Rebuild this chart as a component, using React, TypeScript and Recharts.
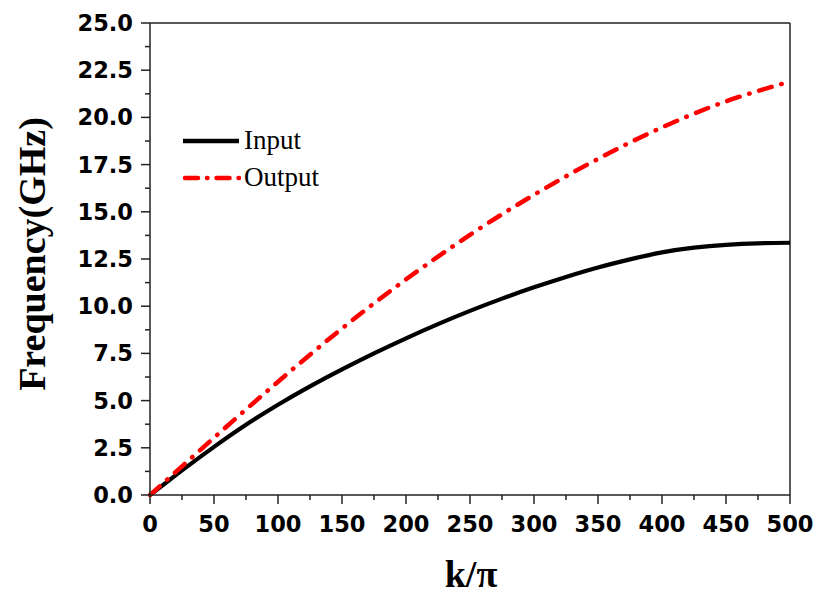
import React from "react"
import { LineChart, Line, XAxis, YAxis, ReferenceLine, Legend } from "recharts"

const kValues = [0, 25, 50, 75, 100, 125, 150, 175, 200, 225, 250, 275, 300, 325, 350, 375, 400, 425, 450, 475, 500]
const inputFreq = [0, 1.3, 2.55, 3.72, 4.78, 5.75, 6.65, 7.5, 8.3, 9.05, 9.75, 10.4, 11.0, 11.55, 12.05, 12.48, 12.85, 13.1, 13.25, 13.33, 13.36]
const outputFreq = [0, 1.52, 3.03, 4.53, 6.0, 7.43, 8.82, 10.15, 11.42, 12.63, 13.78, 14.87, 15.9, 16.88, 17.8, 18.67, 19.47, 20.2, 20.85, 21.4, 21.9]

const xTicks = [0, 25, 50, 75, 100, 125, 150, 175, 200, 225, 250, 275, 300, 325, 350, 375, 400, 425, 450, 475, 500]
const yTicks = [0, 1.25, 2.5, 3.75, 5, 6.25, 7.5, 8.75, 10, 11.25, 12.5, 13.75, 15, 16.25, 17.5, 18.75, 20, 21.25, 22.5, 23.75, 25]

const data = kValues.map((k, i) => ({ k, input: inputFreq[i], output: outputFreq[i] }))

const axisColor = "#222"
const tickFont = { fontFamily: "'DejaVu Sans', sans-serif", fontWeight: 700, fontSize: 22.5, fill: "#000" }
const serif = "'Liberation Serif', 'Times New Roman', serif"

const XTick = (props: any) => {
  const { x, y, index, payload } = props
  const major = index % 2 === 0
  return (
    <g>
      <line x1={x} x2={x} y1={y} y2={y + (major ? 9 : 5)} stroke={axisColor} strokeWidth={1.5} />
      {major && (
        <text x={x} y={y + 37} textAnchor="middle" style={tickFont}>
          {payload.value}
        </text>
      )}
    </g>
  )
}

const YTick = (props: any) => {
  const { x, y, index, payload } = props
  const major = index % 2 === 0
  return (
    <g>
      <line x1={x} x2={x - (major ? 9 : 5)} y1={y} y2={y} stroke={axisColor} strokeWidth={1.5} />
      {major && (
        <text x={x - 17} y={y + 8} textAnchor="end" style={tickFont}>
          {Number(payload.value).toFixed(1)}
        </text>
      )}
    </g>
  )
}

const renderLegend = () => (
  <div style={{ fontFamily: serif, fontSize: 27, color: "#000", lineHeight: "37px" }}>
    <div style={{ display: "flex", alignItems: "center" }}>
      <svg width={60} height={20}>
        <line x1={2} x2={58} y1={10} y2={10} stroke="#000" strokeWidth={4.5} />
      </svg>
      <span style={{ marginLeft: 3 }}>Input</span>
    </div>
    <div style={{ display: "flex", alignItems: "center" }}>
      <svg width={60} height={20}>
        <line x1={4} x2={58} y1={10} y2={10} stroke="#ff0000" strokeWidth={4.5} strokeDasharray="13 9 0.5 9" strokeLinecap="round" />
      </svg>
      <span style={{ marginLeft: 3 }}>Output</span>
    </div>
  </div>
)

export default function App() {
  return (
    <div style={{ position: "absolute", left: 0, top: 0, width: 819, height: 599, background: "#fff" }}>
      <LineChart width={819} height={599} data={data} margin={{ top: 23, right: 29, bottom: 0, left: 0 }}>
        <XAxis
          dataKey="k"
          type="number"
          domain={[0, 500]}
          ticks={xTicks}
          interval={0}
          height={104}
          tickSize={0}
          tickMargin={0}
          tickLine={false}
          tick={<XTick />}
          axisLine={{ stroke: axisColor, strokeWidth: 1.5 }}
          label={{
            content: () => (
              <text x={471} y={587} textAnchor="middle" style={{ fontFamily: serif, fontWeight: 700, fontSize: 38, fill: "#000" }}>
                k/π
              </text>
            ),
          }}
        />
        <YAxis
          type="number"
          domain={[0, 25]}
          ticks={yTicks}
          interval={0}
          width={150}
          tickSize={0}
          tickMargin={0}
          tickLine={false}
          tick={<YTick />}
          axisLine={{ stroke: axisColor, strokeWidth: 1.5 }}
          label={{
            content: () => (
              <text
                x={45}
                y={254}
                transform="rotate(-90 45 254)"
                textAnchor="middle"
                style={{ fontFamily: serif, fontWeight: 700, fontSize: 38, fill: "#000" }}
              >
                Frequency(GHz)
              </text>
            ),
          }}
        />
        <ReferenceLine y={25} stroke={axisColor} strokeWidth={1.5} />
        <ReferenceLine x={500} stroke={axisColor} strokeWidth={1.5} />
        <Legend
          layout="vertical"
          verticalAlign="middle"
          align="center"
          content={renderLegend}
          wrapperStyle={{ position: "absolute", left: 181, top: 122, width: "auto" }}
        />
        <Line
          type="natural"
          dataKey="input"
          stroke="#000"
          strokeWidth={4.2}
          dot={false}
          isAnimationActive={false}
        />
        <Line
          type="natural"
          dataKey="output"
          stroke="#ff0000"
          strokeWidth={4.5}
          strokeDasharray="13 10 0.5 10"
          strokeLinecap="round"
          dot={false}
          isAnimationActive={false}
        />
      </LineChart>
    </div>
  )
}
